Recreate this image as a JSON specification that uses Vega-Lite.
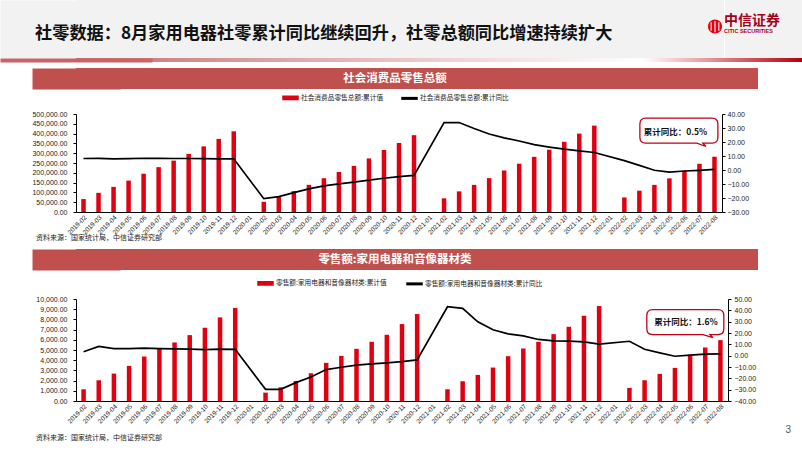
{
  "$schema": "https://vega.github.io/schema/vega-lite/v6.json",
  "padding": 0,
  "background": "white",
  "config": {
    "view": {"stroke": null},
    "font": "Noto Sans CJK SC",
    "axis": {"labelFont": "Liberation Sans", "labelFontSize": 7, "labelColor": "#222222", "domainColor": "#000000", "tickColor": "#000000", "grid": false, "domainWidth": 1, "tickWidth": 1, "labelOverlap": false}
  },
  "datasets": {
    "retail": [
      {"month": "2019-02", "value": 66064, "yoy": 8.2},
      {"month": "2019-03", "value": 97790, "yoy": 8.3},
      {"month": "2019-04", "value": 128115, "yoy": 8.0},
      {"month": "2019-05", "value": 160129, "yoy": 8.1},
      {"month": "2019-06", "value": 195210, "yoy": 8.4},
      {"month": "2019-07", "value": 228873, "yoy": 8.3},
      {"month": "2019-08", "value": 262179, "yoy": 8.2},
      {"month": "2019-09", "value": 296674, "yoy": 8.2},
      {"month": "2019-10", "value": 334778, "yoy": 8.1},
      {"month": "2019-11", "value": 372872, "yoy": 8.0},
      {"month": "2019-12", "value": 411649, "yoy": 8.0},
      {"month": "2020-02", "value": 52130, "yoy": -20.5},
      {"month": "2020-03", "value": 78580, "yoy": -19.0},
      {"month": "2020-04", "value": 106758, "yoy": -16.2},
      {"month": "2020-05", "value": 138730, "yoy": -13.5},
      {"month": "2020-06", "value": 172256, "yoy": -11.4},
      {"month": "2020-07", "value": 203961, "yoy": -9.9},
      {"month": "2020-08", "value": 235614, "yoy": -8.6},
      {"month": "2020-09", "value": 273324, "yoy": -7.2},
      {"month": "2020-10", "value": 316263, "yoy": -5.9},
      {"month": "2020-11", "value": 352242, "yoy": -4.8},
      {"month": "2020-12", "value": 391981, "yoy": -3.9},
      {"month": "2021-02", "value": 69737, "yoy": 33.8},
      {"month": "2021-03", "value": 105221, "yoy": 33.9},
      {"month": "2021-04", "value": 138367, "yoy": 29.6},
      {"month": "2021-05", "value": 172916, "yoy": 25.7},
      {"month": "2021-06", "value": 211904, "yoy": 23.0},
      {"month": "2021-07", "value": 246448, "yoy": 20.7},
      {"month": "2021-08", "value": 281585, "yoy": 18.1},
      {"month": "2021-09", "value": 318057, "yoy": 16.4},
      {"month": "2021-10", "value": 358160, "yoy": 14.9},
      {"month": "2021-11", "value": 399941, "yoy": 13.7},
      {"month": "2021-12", "value": 440823, "yoy": 12.5},
      {"month": "2022-02", "value": 74426, "yoy": 6.7},
      {"month": "2022-03", "value": 108659, "yoy": 3.3},
      {"month": "2022-04", "value": 138318, "yoy": -0.2},
      {"month": "2022-05", "value": 171689, "yoy": -1.5},
      {"month": "2022-06", "value": 210432, "yoy": -0.7},
      {"month": "2022-07", "value": 246003, "yoy": -0.2},
      {"month": "2022-08", "value": 282011, "yoy": 0.5}
    ],
    "appliance": [
      {"month": "2019-02", "value": 1148, "yoy": 3.4},
      {"month": "2019-03", "value": 2033, "yoy": 8.1},
      {"month": "2019-04", "value": 2689, "yoy": 6.3},
      {"month": "2019-05", "value": 3443, "yoy": 6.3},
      {"month": "2019-06", "value": 4361, "yoy": 6.6},
      {"month": "2019-07", "value": 5148, "yoy": 6.3},
      {"month": "2019-08", "value": 5738, "yoy": 6.0},
      {"month": "2019-09", "value": 6459, "yoy": 5.7},
      {"month": "2019-10", "value": 7180, "yoy": 5.4},
      {"month": "2019-11", "value": 8197, "yoy": 5.7},
      {"month": "2019-12", "value": 9115, "yoy": 5.6},
      {"month": "2020-02", "value": 820, "yoy": -29.7},
      {"month": "2020-03", "value": 1344, "yoy": -29.7},
      {"month": "2020-04", "value": 1967, "yoy": -23.8},
      {"month": "2020-05", "value": 2721, "yoy": -18.8},
      {"month": "2020-06", "value": 3738, "yoy": -12.3},
      {"month": "2020-07", "value": 4426, "yoy": -10.2},
      {"month": "2020-08", "value": 5115, "yoy": -8.4},
      {"month": "2020-09", "value": 5803, "yoy": -7.2},
      {"month": "2020-10", "value": 6492, "yoy": -6.4},
      {"month": "2020-11", "value": 7541, "yoy": -5.2},
      {"month": "2020-12", "value": 8525, "yoy": -3.7},
      {"month": "2021-02", "value": 1148, "yoy": 43.2},
      {"month": "2021-03", "value": 1934, "yoy": 41.7},
      {"month": "2021-04", "value": 2557, "yoy": 29.9},
      {"month": "2021-05", "value": 3279, "yoy": 22.9},
      {"month": "2021-06", "value": 4393, "yoy": 19.3},
      {"month": "2021-07", "value": 5148, "yoy": 17.5},
      {"month": "2021-08", "value": 5803, "yoy": 14.3},
      {"month": "2021-09", "value": 6557, "yoy": 13.1},
      {"month": "2021-10", "value": 7279, "yoy": 12.8},
      {"month": "2021-11", "value": 8361, "yoy": 12.2},
      {"month": "2021-12", "value": 9311, "yoy": 10.2},
      {"month": "2022-02", "value": 1279, "yoy": 12.7},
      {"month": "2022-03", "value": 2033, "yoy": 5.7},
      {"month": "2022-04", "value": 2656, "yoy": 2.5},
      {"month": "2022-05", "value": 3246, "yoy": -0.5},
      {"month": "2022-06", "value": 4525, "yoy": 0.4},
      {"month": "2022-07", "value": 5246, "yoy": 1.3},
      {"month": "2022-08", "value": 5967, "yoy": 1.6}
    ]
  },
  "title": {"text": "3", "orient": "bottom", "anchor": "end", "frame": "bounds", "fontSize": 10, "color": "#595959", "font": "Liberation Sans", "fontWeight": "normal", "offset": -16, "dx": -12},
  "columns": 1,
  "spacing": 0,
  "resolve": {"scale": {"color": "independent"}, "legend": {"color": "independent"}},
  "concat": [
    {
      "spacing": 0,
      "hconcat": [
        {"width": 630, "height": 58, "view": {"fill": "#f2f2f2", "stroke": null}, "data": {"values": [{"k": "a"}]}, "mark": {"type": "point", "size": 0, "strokeWidth": 0, "opacity": 0},
         "encoding": {"y": {"field": "k", "type": "nominal", "axis": {"labels": false, "ticks": false, "title": null, "domain": true, "domainWidth": 152, "domainColor": "#f2f2f2"}}},
         "title": {"text": "社零数据：8月家用电器社零累计同比继续回升，社零总额同比增速持续扩大", "anchor": "start", "frame": "group", "orient": "top", "offset": -42, "dx": -41, "fontSize": 17.2, "fontWeight": "bold", "font": "Noto Sans CJK SC", "color": "#111111"}},
        {"width": 18, "height": 58, "view": {"fill": "#f2f2f2", "stroke": null}, "data": {"values": [{}]},
         "layer": [
           {"mark": {"type": "point", "shape": "M-1,-0.357A1,1,0,1,1,1,-0.357A1,1,0,1,1,-1,-0.357Z", "size": 196, "filled": true, "fill": "#e60012", "opacity": 1, "strokeWidth": 0}, "encoding": {}},
           {"mark": {"type": "point", "shape": "M-0.55,-0.95V0.25M0,-1.15V0.45M0.55,-0.95V0.25", "size": 196, "filled": false, "stroke": "#ffffff", "strokeWidth": 1.1, "opacity": 1}, "encoding": {}}
         ]},
        {"width": 78, "height": 58, "view": {"fill": "#f2f2f2", "stroke": null}, "data": {"values": []}, "mark": {"type": "text", "text": ""}, "encoding": {},
         "title": {"text": "中信证券", "subtitle": "CITIC SECURITIES", "anchor": "start", "frame": "group", "orient": "top", "offset": -34, "dx": -1, "fontSize": 14, "font": "Noto Sans CJK SC", "fontWeight": "bold", "color": "#a5001c", "subtitleFontSize": 5.5, "subtitleFont": "Liberation Sans", "subtitleColor": "#a5001c", "subtitleFontWeight": "bold", "subtitlePadding": 1}}
      ]
    },
    {"width": 726, "height": 4,
     "view": {"fill": {"gradient": "linear", "x1": 0, "y1": 0, "x2": 1, "y2": 0, "stops": [{"offset": 0, "color": "#ca6c6c"}, {"offset": 0.3, "color": "#e0a8a8"}, {"offset": 0.55, "color": "#f3d8d8"}, {"offset": 0.78, "color": "#ffffff"}, {"offset": 0.86, "color": "#eba3a3"}, {"offset": 1, "color": "#b4000f"}]}, "stroke": null},
     "data": {"values": [{"k": "a"}]}, "mark": {"type": "point", "size": 0, "strokeWidth": 0, "opacity": 0},
     "encoding": {"y": {"field": "k", "type": "nominal", "axis": {"labels": false, "ticks": false, "title": null, "domain": true, "domainWidth": 152, "domainColor": "#c86464"}}}},
    {"width": 10, "height": 6, "data": {"values": []}, "mark": {"type": "text", "text": ""}, "encoding": {}},
    {"width": 682, "height": 21, "view": {"fill": "#c0504d", "stroke": null},
     "data": {"values": [{"h": "社会消费品零售总额"}]},
     "mark": {"type": "text", "color": "#ffffff", "fontSize": 11.5, "fontWeight": "bold", "font": "Noto Sans CJK SC", "dx": -22},
     "encoding": {
       "text": {"field": "h"},
       "y": {"field": "h", "type": "nominal", "axis": {"labels": false, "ticks": false, "title": null, "domain": true, "domainWidth": 88, "domainColor": "#c0504d"}}
     }},
    {
      "width": 646, "height": 98,
      "data": {"name": "retail"},
      "title": {"text": "资料来源：国家统计局，中信证券研究部", "orient": "bottom", "anchor": "start", "frame": "bounds", "fontSize": 7, "color": "#222222", "fontWeight": "normal", "font": "Noto Sans CJK SC", "offset": -1, "dx": 36},
      "layer": [
        {"mark": {"type": "bar", "width": 4.5, "invalid": "filter"},
         "encoding": {
           "x": {"field": "month", "type": "ordinal", "sort": null,
                 "scale": {"domain": ["2019-02","2019-03","2019-04","2019-05","2019-06","2019-07","2019-08","2019-09","2019-10","2019-11","2019-12","2020-01","2020-02","2020-03","2020-04","2020-05","2020-06","2020-07","2020-08","2020-09","2020-10","2020-11","2020-12","2021-01","2021-02","2021-03","2021-04","2021-05","2021-06","2021-07","2021-08","2021-09","2021-10","2021-11","2021-12","2022-01","2022-02","2022-03","2022-04","2022-05","2022-06","2022-07","2022-08"], "paddingInner": 0, "paddingOuter": 0},
                 "axis": {"title": null, "labelAngle": -45, "labelFontSize": 6.5, "ticks": false, "labelPadding": 2, "labelOverlap": false}},
           "y": {"field": "value", "type": "quantitative", "scale": {"domain": [0, 500000], "nice": false},
                 "axis": {"title": null, "values": [0, 50000, 100000, 150000, 200000, 250000, 300000, 350000, 400000, 450000, 500000], "format": ",.2f", "tickSize": 3, "labelPadding": 6, "minExtent": 76, "maxExtent": 76, "labelOverlap": false}},
           "color": {"datum": "社会消费品零售总额:累计值", "type": "nominal",
                     "scale": {"domain": ["社会消费品零售总额:累计值", "社会消费品零售总额:累计同比"], "range": ["#e10010", "#000000"]},
                     "legend": {"orient": "none", "legendX": 206, "legendY": -25, "direction": "horizontal", "title": null, "labelFontSize": 6.7, "labelFont": "Noto Sans CJK SC", "labelColor": "#222222", "symbolSize": 225, "columnPadding": 15, "labelOffset": 2, "padding": 0,
                                "encode": {"symbols": {"update": {"shape": {"signal": "datum.index === 0 ? 'M-1,-0.22H1V0.22H-1Z' : 'M-1,-0.1H1V0.1H-1Z'"}, "fill": {"signal": "datum.index === 0 ? '#e10010' : '#000000'"}, "stroke": {"value": "transparent"}, "opacity": {"value": 1}}}}}}
         }},
        {"mark": {"type": "line", "strokeWidth": 1.7, "invalid": "filter"},
         "encoding": {
           "x": {"field": "month", "type": "ordinal", "sort": null},
           "y": {"field": "yoy", "type": "quantitative", "scale": {"domain": [-30, 40], "nice": false},
                 "axis": {"orient": "right", "title": null, "values": [-30, -20, -10, 0, 10, 20, 30, 40], "format": ".2f", "tickSize": 3, "labelPadding": 2, "labelOverlap": false}},
           "color": {"datum": "社会消费品零售总额:累计同比", "type": "nominal"}
         }},
        {"data": {"values": [{"month": "2022-08", "yoy": 0.5, "note": "累计同比：0.5%"}]},
         "mark": {"type": "point", "shape": "M-1.763,-1.31H-0.063Q0.087,-1.31,0.087,-1.16V-0.82Q0.087,-0.67,-0.063,-0.67H-0.3L-0.22,-0.585L-0.45,-0.67H-1.763Q-1.913,-0.67,-1.913,-0.82V-1.16Q-1.913,-1.31,-1.763,-1.31Z", "size": 6084, "filled": true, "fill": "#ffffff", "stroke": "#c0001a", "strokeWidth": 1.3, "opacity": 1},
         "encoding": {"x": {"field": "month", "type": "ordinal"}, "y": {"field": "yoy", "type": "quantitative", "scale": {"domain": [-30, 40], "nice": false}, "axis": null}}},
        {"data": {"values": [{"month": "2022-08", "yoy": 0.5, "note": "累计同比：0.5%"}]},
         "mark": {"type": "text", "dx": -39, "dy": -37.8, "fontSize": 8.5, "fontWeight": "bold", "font": "Noto Sans CJK SC", "color": "#111111"},
         "encoding": {"x": {"field": "month", "type": "ordinal"}, "y": {"field": "yoy", "type": "quantitative", "scale": {"domain": [-30, 40], "nice": false}, "axis": null}, "text": {"field": "note"}}}
      ],
      "resolve": {"scale": {"y": "independent"}}
    },
    {"width": 10, "height": 7, "data": {"values": []}, "mark": {"type": "text", "text": ""}, "encoding": {}},
    {"width": 682, "height": 21, "view": {"fill": "#c0504d", "stroke": null},
     "data": {"values": [{"h": "零售额:家用电器和音像器材类"}]},
     "mark": {"type": "text", "color": "#ffffff", "fontSize": 11.5, "fontWeight": "bold", "font": "Noto Sans CJK SC", "dx": -22},
     "encoding": {
       "text": {"field": "h"},
       "y": {"field": "h", "type": "nominal", "axis": {"labels": false, "ticks": false, "title": null, "domain": true, "domainWidth": 88, "domainColor": "#c0504d"}}
     }},
    {"width": 10, "height": 4, "data": {"values": []}, "mark": {"type": "text", "text": ""}, "encoding": {}},
    {
      "width": 652, "height": 102,
      "data": {"name": "appliance"},
      "title": {"text": "资料来源：国家统计局，中信证券研究部", "orient": "bottom", "anchor": "start", "frame": "bounds", "fontSize": 7, "color": "#222222", "fontWeight": "normal", "font": "Noto Sans CJK SC", "offset": 10, "dx": 36},
      "layer": [
        {"mark": {"type": "bar", "width": 4.5, "invalid": "filter"},
         "encoding": {
           "x": {"field": "month", "type": "ordinal", "sort": null,
                 "scale": {"domain": ["2019-02","2019-03","2019-04","2019-05","2019-06","2019-07","2019-08","2019-09","2019-10","2019-11","2019-12","2020-01","2020-02","2020-03","2020-04","2020-05","2020-06","2020-07","2020-08","2020-09","2020-10","2020-11","2020-12","2021-01","2021-02","2021-03","2021-04","2021-05","2021-06","2021-07","2021-08","2021-09","2021-10","2021-11","2021-12","2022-01","2022-02","2022-03","2022-04","2022-05","2022-06","2022-07","2022-08"], "paddingInner": 0, "paddingOuter": 0},
                 "axis": {"title": null, "labelAngle": -45, "labelFontSize": 6.5, "ticks": false, "labelPadding": 2, "labelOverlap": false}},
           "y": {"field": "value", "type": "quantitative", "scale": {"domain": [0, 10000], "nice": false},
                 "axis": {"title": null, "values": [0, 1000, 2000, 3000, 4000, 5000, 6000, 7000, 8000, 9000, 10000], "format": ",.2f", "tickSize": 3, "labelPadding": 6, "minExtent": 76, "maxExtent": 76, "labelOverlap": false}},
           "color": {"datum": "零售额:家用电器和音像器材类:累计值", "type": "nominal",
                     "scale": {"domain": ["零售额:家用电器和音像器材类:累计值", "零售额:家用电器和音像器材类:累计同比"], "range": ["#e10010", "#000000"]},
                     "legend": {"orient": "none", "legendX": 181, "legendY": -24.5, "direction": "horizontal", "title": null, "labelFontSize": 6.7, "labelFont": "Noto Sans CJK SC", "labelColor": "#222222", "symbolSize": 225, "columnPadding": 17, "labelOffset": 2, "padding": 0,
                                "encode": {"symbols": {"update": {"shape": {"signal": "datum.index === 0 ? 'M-1,-0.22H1V0.22H-1Z' : 'M-1,-0.1H1V0.1H-1Z'"}, "fill": {"signal": "datum.index === 0 ? '#e10010' : '#000000'"}, "stroke": {"value": "transparent"}, "opacity": {"value": 1}}}}}}
         }},
        {"mark": {"type": "line", "strokeWidth": 1.7, "invalid": "filter"},
         "encoding": {
           "x": {"field": "month", "type": "ordinal", "sort": null},
           "y": {"field": "yoy", "type": "quantitative", "scale": {"domain": [-40, 50], "nice": false},
                 "axis": {"orient": "right", "title": null, "values": [-40, -30, -20, -10, 0, 10, 20, 30, 40, 50], "format": ".2f", "tickSize": 3, "labelPadding": 3, "labelOverlap": false}},
           "color": {"datum": "零售额:家用电器和音像器材类:累计同比", "type": "nominal"}
         }},
        {"data": {"values": [{"month": "2022-08", "yoy": 1.6, "note": "累计同比：1.6%"}]},
         "mark": {"type": "point", "shape": "M-1.737,-1.133H-0.063Q0.087,-1.133,0.087,-0.983V-0.642Q0.087,-0.492,-0.063,-0.492H-0.267L-0.19,-0.415L-0.446,-0.492H-1.737Q-1.887,-0.492,-1.887,-0.642V-0.983Q-1.887,-1.133,-1.737,-1.133Z", "size": 6084, "filled": true, "fill": "#ffffff", "stroke": "#c0001a", "strokeWidth": 1.3, "opacity": 1},
         "encoding": {"x": {"field": "month", "type": "ordinal"}, "y": {"field": "yoy", "type": "quantitative", "scale": {"domain": [-40, 50], "nice": false}, "axis": null}}},
        {"data": {"values": [{"month": "2022-08", "yoy": 1.6, "note": "累计同比：1.6%"}]},
         "mark": {"type": "text", "dx": -34.4, "dy": -32.2, "fontSize": 8.5, "fontWeight": "bold", "font": "Noto Sans CJK SC", "color": "#111111"},
         "encoding": {"x": {"field": "month", "type": "ordinal"}, "y": {"field": "yoy", "type": "quantitative", "scale": {"domain": [-40, 50], "nice": false}, "axis": null}, "text": {"field": "note"}}}
      ],
      "resolve": {"scale": {"y": "independent"}}
    }
  ]
}
